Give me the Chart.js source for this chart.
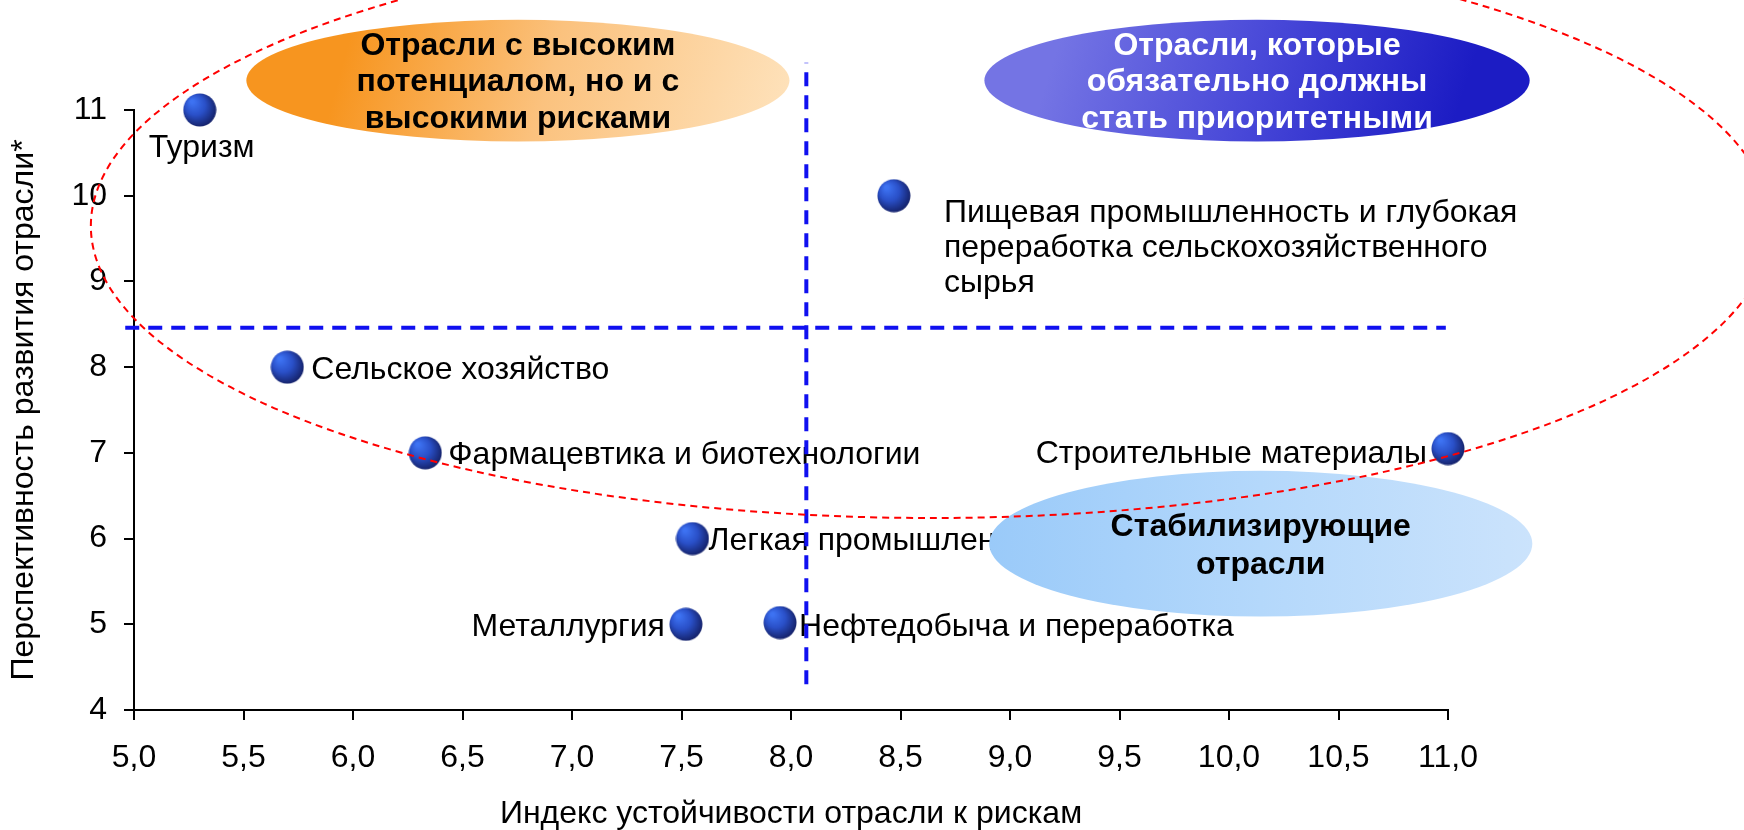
<!DOCTYPE html>
<html lang="ru">
<head>
<meta charset="utf-8">
<title>Отрасли: перспективность и устойчивость к рискам</title>
<script src="https://cdn.jsdelivr.net/npm/chart.js@4"></script>
<style>
    html, body { margin: 0; padding: 0; background: #ffffff; }
    canvas { display: block; }
</style>
</head>
<body>
<canvas id="chart" width="1744" height="830"></canvas>
<script>
// Данные графика
const industries = [
    'Туризм',
    ['Пищевая промышленность и глубокая', 'переработка сельскохозяйственного', 'сырья'],
    'Сельское хозяйство',
    'Фармацевтика и биотехнологии',
    'Строительные материалы',
    'Легкая промышленность',
    'Металлургия',
    'Нефтедобыча и переработка'
];
const riskIndex = [5.3, 8.47, 5.7, 6.33, 11.0, 7.55, 7.52, 7.95];
const prospects = [11, 10, 8, 7, 7.05, 6, 5, 5.02];

// Пороговые линии (делят поле на квадранты)
const riskThreshold = 8.07;
const riskLineSpan = [4.3, 11.55];
const prospectThreshold = 8.46;
const prospectLineSpan = [4.96, 10.99];

// Подписи осей и делений
const xTicks = [5, 5.5, 6, 6.5, 7, 7.5, 8, 8.5, 9, 9.5, 10, 10.5, 11];
const yTicks = [4, 5, 6, 7, 8, 9, 10, 11];
const xTitle = 'Индекс устойчивости отрасли к рискам';
const yTitle = 'Перспективность развития отрасли*';

// Подписи точек: выравнивание и смещение в пикселях
const labelPlacement = [
    { align: 'center', dx: 2, dy: 38 },
    { align: 'left', dx: 50, dy: 17 },
    { align: 'left', dx: 24, dy: 3 },
    { align: 'left', dx: 23, dy: 2 },
    { align: 'right', dx: -21, dy: 6 },
    { align: 'left', dx: 16, dy: 3 },
    { align: 'right', dx: -21, dy: 3 },
    { align: 'left', dx: 19, dy: 5 }
];

// Овалы-пояснения (в единицах осей)
const zones = [
    { text: ['Отрасли с высоким', 'потенциалом, но и с', 'высокими рисками'], x: 6.753, y: 11.343, rx: 1.24, ry: 0.71, kind: 'orange' },
    { text: ['Отрасли, которые', 'обязательно должны', 'стать приоритетными'], x: 10.128, y: 11.343, rx: 1.245, ry: 0.71, kind: 'violet' },
    { text: ['Стабилизирующие', 'отрасли'], x: 10.145, y: 5.94, rx: 1.24, ry: 0.85, kind: 'sky' }
];
// Красный пунктирный овал вокруг перспективных отраслей
const highlightRing = { x: 8.639, y: 9.647, rx: 3.836, ry: 3.407 };

const FONT = '"Liberation Sans", Arial, sans-serif';

// Шарик для точек
function makeBall(r) {
    const c = document.createElement('canvas');
    c.width = c.height = r * 2;
    const g = c.getContext('2d');
    const grad = g.createRadialGradient(r * 0.55, r * 0.5, r * 0.1, r * 0.9, r * 0.9, r * 1.1);
    grad.addColorStop(0, '#3d72f2');
    grad.addColorStop(0.5, '#2a50c8');
    grad.addColorStop(1, '#15226a');
    g.fillStyle = grad;
    g.beginPath();
    g.arc(r, r, r - 0.5, 0, Math.PI * 2);
    g.fill();
    return c;
}

function zoneFill(ctx, kind, cx, cy, rx, ry) {
    let grad;
    if (kind === 'orange') {
        grad = ctx.createLinearGradient(cx - rx * 0.6, cy - ry, cx + rx, cy + ry);
        grad.addColorStop(0, '#f7951f');
        grad.addColorStop(0.45, '#fbc27e');
        grad.addColorStop(1, '#fee3bd');
    } else if (kind === 'violet') {
        grad = ctx.createLinearGradient(cx - rx * 0.7, cy - ry, cx + rx * 0.7, cy + ry);
        grad.addColorStop(0, '#7474e4');
        grad.addColorStop(0.5, '#4848d8');
        grad.addColorStop(1, '#1c1cc4');
    } else {
        grad = ctx.createLinearGradient(cx - rx, cy, cx + rx, cy);
        grad.addColorStop(0, '#9acaf9');
        grad.addColorStop(0.5, '#b4d8fb');
        grad.addColorStop(1, '#cbe3fc');
    }
    return grad;
}

const overlayPlugin = {
    id: 'overlay',
    // подписи рисуем под точками и линиями
    beforeDatasetsDraw(chart) {
        const ctx = chart.ctx;
        const meta = chart.getDatasetMeta(0);
        ctx.save();
        ctx.font = '32px ' + FONT;
        ctx.fillStyle = '#000000';
        ctx.textBaseline = 'middle';
        meta.data.forEach((pt, i) => {
            const p = labelPlacement[i];
            const lines = Array.isArray(industries[i]) ? industries[i] : [industries[i]];
            ctx.textAlign = p.align;
            lines.forEach((line, j) => {
                ctx.fillText(line, pt.x + p.dx, pt.y + p.dy + j * 35);
            });
        });
        ctx.restore();
    },
    afterDatasetsDraw(chart) {
        const ctx = chart.ctx;
        const xs = chart.scales.x;
        const ys = chart.scales.y;
        ctx.save();
        zones.forEach(z => {
            const cx = xs.getPixelForValue(z.x);
            const cy = ys.getPixelForValue(z.y);
            const rx = xs.getPixelForValue(z.x + z.rx) - cx;
            const ry = cy - ys.getPixelForValue(z.y + z.ry);
            ctx.beginPath();
            ctx.ellipse(cx, cy, rx, ry, 0, 0, Math.PI * 2);
            ctx.fillStyle = zoneFill(ctx, z.kind, cx, cy, rx, ry);
            ctx.fill();
            ctx.font = 'bold 32px ' + FONT;
            ctx.textAlign = 'center';
            ctx.textBaseline = 'middle';
            ctx.fillStyle = z.kind === 'violet' ? '#ffffff' : '#000000';
            const n = z.text.length;
            const step = n === 2 ? 38 : 36.5;
            z.text.forEach((line, j) => {
                ctx.fillText(line, cx, cy + (j - (n - 1) / 2) * step + 2);
            });
        });

        // красный пунктирный овал
        const h = highlightRing;
        const hx = xs.getPixelForValue(h.x);
        const hy = ys.getPixelForValue(h.y);
        ctx.beginPath();
        ctx.ellipse(hx, hy, xs.getPixelForValue(h.x + h.rx) - hx, hy - ys.getPixelForValue(h.y + h.ry), 0, 0, Math.PI * 2);
        ctx.strokeStyle = '#ff0000';
        ctx.lineWidth = 2;
        ctx.setLineDash([7, 5]);
        ctx.stroke();
        ctx.restore();
    }
};

const ctx = document.getElementById('chart').getContext('2d');
new Chart(ctx, {
    type: 'scatter',
    data: {
        datasets: [
            {
                label: 'Отрасли',
                data: riskIndex.map((x, i) => ({ x: x, y: prospects[i] })),
                pointStyle: makeBall(17),
                pointRadius: 17,
                clip: false
            },
            {
                type: 'line',
                label: 'Порог устойчивости',
                data: riskLineSpan.map(y => ({ x: riskThreshold, y: y })),
                borderColor: '#1010f0',
                borderWidth: 4,
                borderDash: [14, 9],
                pointRadius: 0,
                fill: false,
                clip: false
            },
            {
                type: 'line',
                label: 'Порог перспективности',
                data: prospectLineSpan.map(x => ({ x: x, y: prospectThreshold })),
                borderColor: '#1010f0',
                borderWidth: 4,
                borderDash: [14, 9],
                pointRadius: 0,
                fill: false,
                clip: false
            }
        ]
    },
    options: {
        responsive: false,
        devicePixelRatio: 1,
        animation: false,
        events: [],
        layout: { padding: { left: 0, right: 296, top: 110, bottom: 0 } },
        plugins: {
            legend: { display: false },
            tooltip: { enabled: false }
        },
        scales: {
            x: {
                type: 'linear',
                min: xTicks[0],
                max: xTicks[xTicks.length - 1],
                afterFit: scale => { scale.height = 120; },
                afterBuildTicks: scale => { scale.ticks = xTicks.map(v => ({ value: v })); },
                ticks: {
                    color: '#000000',
                    font: { family: FONT, size: 32 },
                    padding: 19,
                    autoSkip: false,
                    maxRotation: 0,
                    callback: v => v.toFixed(1).replace('.', ',')
                },
                grid: { drawOnChartArea: false, drawTicks: true, tickLength: 10, color: '#000000', lineWidth: 2 },
                border: { display: true, color: '#000000', width: 2 },
                title: { display: true, text: xTitle, color: '#000000', font: { family: FONT, size: 32, lineHeight: 1.0 }, padding: 0 }
            },
            y: {
                type: 'linear',
                min: yTicks[0],
                max: yTicks[yTicks.length - 1],
                afterFit: scale => { scale.width = 134; },
                afterBuildTicks: scale => { scale.ticks = yTicks.map(v => ({ value: v })); },
                ticks: {
                    color: '#000000',
                    font: { family: FONT, size: 32 },
                    padding: 17,
                    autoSkip: false,
                    callback: v => String(v)
                },
                grid: { drawOnChartArea: false, drawTicks: true, tickLength: 10, color: '#000000', lineWidth: 2 },
                border: { display: true, color: '#000000', width: 2 },
                title: { display: true, text: yTitle, color: '#000000', font: { family: FONT, size: 32, lineHeight: 1.2 }, padding: { top: 5, bottom: 0 } }
            }
        }
    },
    plugins: [overlayPlugin]
});
</script>
</body>
</html>
